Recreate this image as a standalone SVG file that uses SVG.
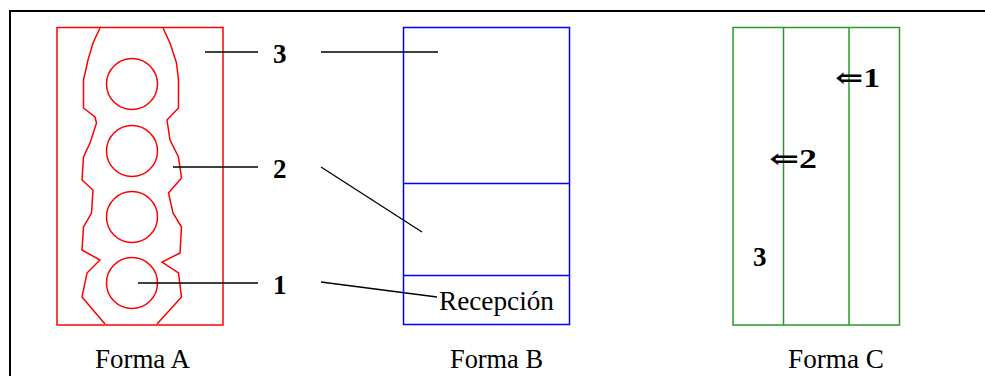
<svg xmlns="http://www.w3.org/2000/svg" width="985" height="376" viewBox="0 0 985 376">
<style>
.red{fill:none;stroke:#ff0000;stroke-width:1.5}
.blue{fill:none;stroke:#0000ff;stroke-width:1.5}
.green{fill:none;stroke:#2a9a2a;stroke-width:1.5}
.lead{fill:none;stroke:#000;stroke-width:1.3}
.num{font-family:"Liberation Serif","DejaVu Serif",serif;font-weight:bold;font-size:27px;fill:#000}
.lbl{font-family:"Liberation Serif","DejaVu Serif",serif;font-size:27px;fill:#000}
.cap{font-family:"Liberation Serif","DejaVu Serif",serif;font-size:28px;fill:#000}
</style>
<rect width="985" height="376" fill="#fff"/>
<path d="M10,376 V11 H985" fill="none" stroke="#000" stroke-width="2"/>
<g id="formaA">
<rect class="red" x="57" y="27.5" width="166" height="297.5"/>
<path class="red" d="M100,28 L93,43 L88,60 L83.5,80 L83.5,108 L95,117 L96.5,123 L90,143 L83.5,157 L82,180 L93,190 L91.5,213 L83.5,227 L82,250 L100,260 L87,273 L82,297 L105,324 M157,324 L181.5,297 L178.5,273 L162,262 L180,253 L181.5,227 L173,213 L168.5,193 L181.5,178 L178.5,157 L170,140 L167,120 L178.5,108 L178.5,80 L176.5,63 L170,43 L163,28"/>
<circle class="red" cx="132" cy="84" r="25.5"/>
<circle class="red" cx="132" cy="151" r="25.5"/>
<circle class="red" cx="132" cy="217" r="25.5"/>
<circle class="red" cx="132" cy="283" r="25.5"/>
<text class="cap" x="95" y="368" textLength="95" lengthAdjust="spacingAndGlyphs">Forma A</text>
</g>
<g id="formaB">
<rect class="blue" x="403.5" y="27.5" width="166" height="297"/>
<line class="blue" x1="403.5" y1="183.5" x2="569.5" y2="183.5"/>
<line class="blue" x1="403.5" y1="275.5" x2="569.5" y2="275.5"/>
<text class="lbl" x="439" y="310" textLength="115" lengthAdjust="spacingAndGlyphs">Recepción</text>
<text class="cap" x="450" y="368" textLength="93" lengthAdjust="spacingAndGlyphs">Forma B</text>
</g>
<g id="formaC">
<rect class="green" x="733" y="27.5" width="166.5" height="297.5"/>
<line class="green" x1="783.5" y1="27.5" x2="783.5" y2="325"/>
<line class="green" x1="849" y1="27.5" x2="849" y2="325"/>
<text class="num" x="835" y="87" textLength="45" lengthAdjust="spacingAndGlyphs">⇐1</text>
<text class="num" x="769" y="168" textLength="48" lengthAdjust="spacingAndGlyphs">⇐2</text>
<text class="num" x="753" y="266">3</text>
<text class="cap" x="788" y="368" textLength="96" lengthAdjust="spacingAndGlyphs">Forma C</text>
</g>
<g id="labels">
<text class="num" x="273" y="63">3</text>
<text class="num" x="273" y="178">2</text>
<text class="num" x="273" y="294">1</text>
</g>
<g id="connectors">
<line class="lead" x1="205" y1="52" x2="258" y2="52"/>
<line class="lead" x1="321" y1="52" x2="438" y2="52"/>
<line class="lead" x1="173" y1="167" x2="258" y2="167"/>
<line class="lead" x1="321" y1="167" x2="422" y2="232"/>
<line class="lead" x1="138" y1="283" x2="258" y2="283"/>
<line class="lead" x1="321" y1="282" x2="437" y2="297"/>
</g>
</svg>
